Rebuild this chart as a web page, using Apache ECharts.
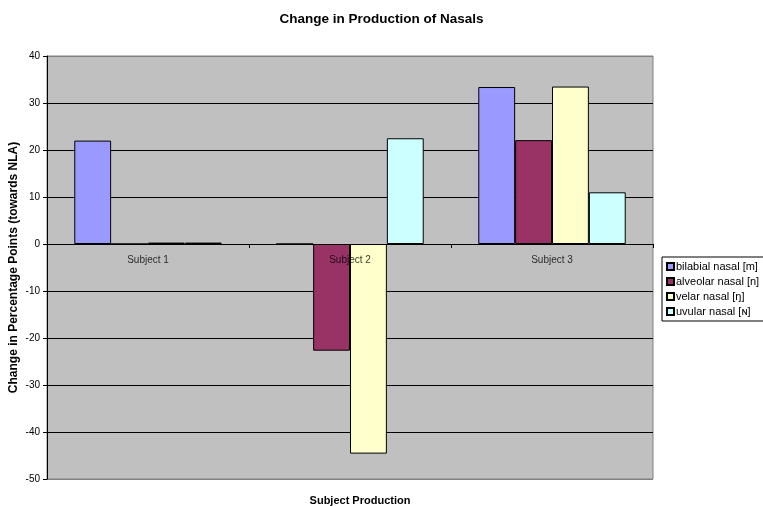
<!DOCTYPE html>
<html>
<head>
<meta charset="utf-8">
<script src="https://cdn.jsdelivr.net/npm/echarts@6/dist/echarts.min.js"></script>
<style>
  html, body { margin: 0; padding: 0; background: #fff; }
  #chart { width: 763px; height: 506px; }
</style>
</head>
<body>
<div id="chart"></div>
<script>
// Subjects along the category axis
const subjects = ['Subject 1', 'Subject 2', 'Subject 3'];

// Change in percentage points for each nasal, per subject
const bilabial = [22.0, 0, 33.4];
const alveolar = [0, -22.7, 22.1];
const velar = [0.3, -44.6, 33.5];
const uvular = [0.3, 22.5, 11.0];

const seriesNames = ['bilabial nasal [m]', 'alveolar nasal [n]', 'velar nasal [ŋ]', 'uvular nasal [ɴ]'];
const seriesColors = ['#9999FF', '#993366', '#FFFFCC', '#CCFFFF'];
const seriesData = [bilabial, alveolar, velar, uvular];

// Value axis settings
const yMin = -50, yMax = 40, yStep = 10;

const font = 'Liberation Sans, Arial, sans-serif';

// Gridlines are black inside the plot; the outermost ones match the grey frame
const gridLineCount = (yMax - yMin) / yStep + 1;
const gridLineColors = Array.from({ length: gridLineCount }, (_, i) =>
  (i === 0 || i === gridLineCount - 1) ? '#808080' : '#000');

const chart = echarts.init(document.getElementById('chart'), null, { renderer: 'canvas' });

const barSeries = seriesNames.map((name, i) => ({
  name: name,
  type: 'bar',
  data: seriesData[i],
  barGap: '0%',
  barCategoryGap: '27%',
  itemStyle: { color: seriesColors[i], borderColor: '#000', borderWidth: 1 }
}));

// Category names written just under the zero line, on top of the bars
const categoryLabels = {
  type: 'scatter',
  name: 'categories',
  z: 4,
  silent: true,
  symbolSize: 0,
  data: subjects.map(s => [s, 0]),
  label: {
    show: true,
    position: 'bottom',
    distance: 11,
    formatter: p => p.value[0],
    fontFamily: font,
    fontSize: 10,
    color: '#000'
  }
};

chart.setOption({
  animation: false,
  backgroundColor: '#ffffff',
  textStyle: { fontFamily: font },
  title: [
    {
      text: 'Change in Production of Nasals',
      left: 'center',
      top: 7,
      textStyle: { fontFamily: font, fontSize: 13.5, fontWeight: 'bold', color: '#000' }
    },
    {
      text: 'Subject Production',
      left: 355,
      top: 490,
      textAlign: 'center',
      textStyle: { fontFamily: font, fontSize: 11, fontWeight: 'bold', color: '#000' }
    }
  ],
  legend: {
    orient: 'vertical',
    left: 662,
    top: 257,
    itemWidth: 7,
    itemHeight: 7,
    itemGap: 4,
    icon: 'rect',
    padding: [4, 8, 4, 4],
    borderColor: '#000',
    borderWidth: 1,
    backgroundColor: '#fff',
    borderRadius: 0,
    textStyle: { fontFamily: font, fontSize: 11, color: '#000', padding: [0, 0, 0, -3] },
    data: seriesNames
  },
  grid: {
    left: 47,
    right: 110,
    top: 56,
    bottom: 27,
    containLabel: false,
    outerBoundsMode: 'none',
    show: true,
    backgroundColor: '#C0C0C0',
    borderColor: '#808080',
    borderWidth: 1
  },
  xAxis: {
    type: 'category',
    data: subjects,
    axisLine: { onZero: true, lineStyle: { color: '#000', width: 1 } },
    axisTick: { show: true, length: 4, alignWithLabel: false, lineStyle: { color: '#000' } },
    axisLabel: { show: false },
    splitLine: { show: false }
  },
  yAxis: {
    type: 'value',
    min: yMin,
    max: yMax,
    interval: yStep,
    name: 'Change in Percentage Points (towards NLA)',
    nameLocation: 'middle',
    nameGap: 27,
    nameMoveOverlap: false,
    nameTextStyle: { fontFamily: font, fontSize: 12, fontWeight: 'bold', color: '#000' },
    axisLine: { show: true, lineStyle: { color: '#000', width: 1 } },
    axisTick: { show: true, length: 4, lineStyle: { color: '#000' } },
    axisLabel: { fontFamily: font, fontSize: 10, color: '#000', margin: 7 },
    splitLine: { show: true, lineStyle: { color: gridLineColors, width: 1 } }
  },
  series: barSeries.concat([categoryLabels])
});
</script>
</body>
</html>
